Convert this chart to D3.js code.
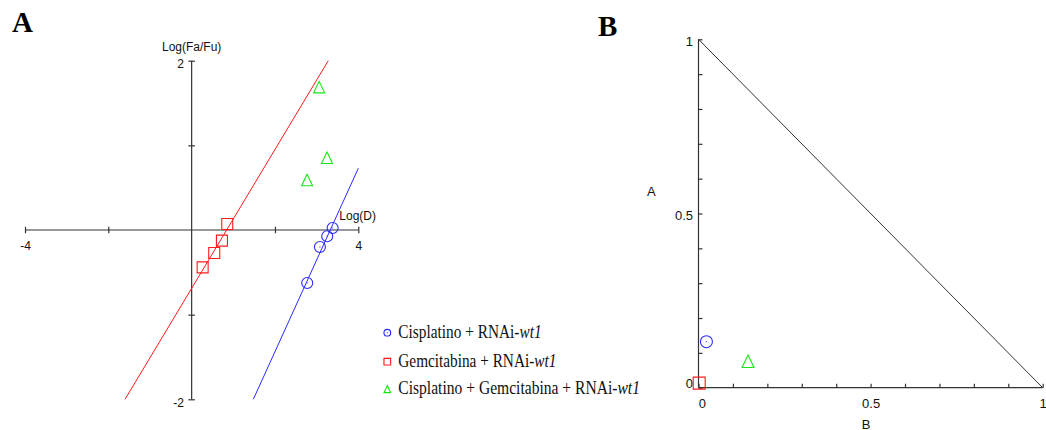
<!DOCTYPE html>
<html><head><meta charset="utf-8">
<script src="https://cdn.jsdelivr.net/npm/d3@7"></script>
<style>
html,body{margin:0;padding:0;background:#fff;}
svg{display:block;}
</style></head>
<body>
<svg id="chart" width="1046" height="430"></svg>
<script>
// ---------- DATA ----------
const seriesNames = ["Cisplatino + RNAi-", "Gemcitabina + RNAi-", "Cisplatino + Gemcitabina + RNAi-"];
const seriesItalic = ["wt1", "wt1", "wt1"];
const seriesColors = ["#2b2bff", "#ff1a1a", "#19e619"];
const seriesSymbols = ["circle", "square", "triangle"];

// Panel A: median-effect plot, Log(D) vs Log(Fa/Fu)
const cisLogD   = [3.384, 3.254, 3.079, 2.774];
const cisLogFa  = [0.024, -0.074, -0.201, -0.626];
const gemLogD   = [0.854, 0.727, 0.542, 0.264];
const gemLogFa  = [0.071, -0.126, -0.272, -0.441];
const comboLogD = [3.06, 3.25, 2.77];
const comboLogFa= [1.685, 0.85, 0.587];
// fitted median-effect lines (slope m, intercept b): y = m*x + b
const lineSlopes     = [1.083, 0.82];
const lineIntercepts = [-3.603, -0.689];
const lineColors     = ["#2b2bff", "#ff1a1a"];

const axisAXTicks = [-4, -2, 2, 4];
const axisAXLabels = [-4, 4];
const axisAYTicks = [-2, -1, 1, 2];
const axisAYLabels = [-2, 2];

// Panel B: normalized isobologram
const isoB = [0.023, 0.002, 0.144];
const isoA = [0.132, 0.013, 0.075];
const axisBTicks = [0, 0.1, 0.2, 0.3, 0.4, 0.5, 0.6, 0.7, 0.8, 0.9, 1];
const axisBLabels = [0, 0.5, 1];

// ---------- DRAW ----------
const svg = d3.select("#chart");
const axisColor = "#333";

function symbolPath(type, s) {
  const h = s / 2;
  if (type === "circle") return null;
  if (type === "square") return `M${-h},${-h}H${h}V${h}H${-h}Z`;
  return `M0,${-h - 0.5}L${h},${h}L${-h},${h}Z`;
}
function drawSymbol(g, type, x, y, size, color, dot) {
  if (type === "circle") {
    g.append("circle").attr("cx", x).attr("cy", y).attr("r", size / 2)
      .attr("fill", "none").attr("stroke", color).attr("stroke-width", 1.1);
  } else {
    g.append("path").attr("transform", `translate(${x},${y})`)
      .attr("d", symbolPath(type, size))
      .attr("fill", "none").attr("stroke", color).attr("stroke-width", 1.1);
  }
  if (dot) g.append("rect").attr("x", x - 0.5).attr("y", y - 0.5).attr("width", 1).attr("height", 1).attr("fill", color);
}

// Panel letters
svg.append("text").attr("x", 12).attr("y", 32.3).text("A")
  .attr("font-family", "Liberation Serif, Times New Roman, serif").attr("font-weight", "bold").attr("font-size", 29);
svg.append("text").attr("x", 598).attr("y", 35.7).text("B")
  .attr("font-family", "Liberation Serif, Times New Roman, serif").attr("font-weight", "bold").attr("font-size", 29);

// ----- Panel A -----
const xA = d3.scaleLinear().domain([-4, 4]).range([25, 358.3]);
const yA = d3.scaleLinear().domain([-2, 2]).range([399.3, 60.7]);
const gA = svg.append("g");
const fontUI = "Liberation Sans, Arial, sans-serif";

const xAxisA = gA.append("g").attr("transform", `translate(0,${yA(0)})`)
  .call(d3.axisBottom(xA).tickValues(axisAXTicks).tickSize(3.3)
    .tickFormat(d => axisAXLabels.includes(d) ? d : ""));
xAxisA.select(".domain").attr("d", `M${xA(-4)},0H${xA(4)}`);
xAxisA.selectAll(".tick line").attr("y1", -3.3);
xAxisA.selectAll(".tick text").attr("y", 11.5).attr("dy", "0.71em");

const yAxisA = gA.append("g").attr("transform", `translate(${xA(0)},0)`)
  .call(d3.axisLeft(yA).tickValues(axisAYTicks).tickSize(3.3)
    .tickFormat(d => axisAYLabels.includes(d) ? d : ""));
yAxisA.select(".domain").attr("d", `M0,${yA(-2)}V${yA(2)}`);
yAxisA.selectAll(".tick line").attr("x2", 3.3).attr("x1", -3.3);
yAxisA.selectAll(".tick text").attr("x", -7.7).attr("dy", "0.6em");

[xAxisA, yAxisA].forEach(ax => {
  ax.selectAll(".domain, .tick line").attr("stroke", axisColor).attr("stroke-width", 1.2);
  ax.selectAll(".tick text").attr("fill", "#111").attr("font-family", fontUI).attr("font-size", 12);
});

gA.append("text").attr("x", xA(0)).attr("y", 51).attr("text-anchor", "middle")
  .attr("font-family", fontUI).attr("font-size", 12).attr("fill", "#111").text("Log(Fa/Fu)");
gA.append("text").attr("x", 339.3).attr("y", 219.5).attr("text-anchor", "start")
  .attr("font-family", fontUI).attr("font-size", 12).attr("fill", "#111").text("Log(D)");

// fitted lines, clipped to plot domain
lineSlopes.forEach((m, i) => {
  const b = lineIntercepts[i];
  let x1 = (-2 - b) / m, x2 = (2 - b) / m;
  x1 = Math.max(-4, Math.min(4, x1)); x2 = Math.max(-4, Math.min(4, x2));
  gA.append("line")
    .attr("x1", xA(x1)).attr("y1", yA(m * x1 + b))
    .attr("x2", xA(x2)).attr("y2", yA(m * x2 + b))
    .attr("stroke", lineColors[i]).attr("stroke-width", 1);
});

const ptsA = [[cisLogD, cisLogFa], [gemLogD, gemLogFa], [comboLogD, comboLogFa]];
ptsA.forEach(([xs, ys], i) => {
  xs.forEach((x, j) => drawSymbol(gA, seriesSymbols[i], xA(x), yA(ys[j]), 11, seriesColors[i], i === 0));
});

// Legend
const legendY = [332.7, 361.7, 389.3];
const legendW = [143.3, 158.3, 241.7];
seriesNames.forEach((nm, i) => {
  drawSymbol(svg, seriesSymbols[i], 387.3, legendY[i], 6.7, seriesColors[i], i === 0);
  const g = svg.append("g").attr("transform", `translate(398.3,${legendY[i] + 4.8})`);
  const t = g.append("text").attr("font-family", "Liberation Serif, Times New Roman, serif")
    .attr("font-size", 18).attr("fill", "#111");
  t.append("tspan").text(nm);
  t.append("tspan").attr("font-style", "italic").text(seriesItalic[i]);
  const w = t.node().getComputedTextLength();
  t.attr("transform", `scale(${legendW[i] / w},1)`);
});

// ----- Panel B -----
const xB = d3.scaleLinear().domain([0, 1]).range([698.5, 1042.7]);
const yB = d3.scaleLinear().domain([0, 1]).range([387.7, 39.3]);
const gB = svg.append("g");

const xAxisB = gB.append("g").attr("transform", `translate(0,${yB(0)})`)
  .call(d3.axisBottom(xB).tickValues(axisBTicks).tickSize(-4)
    .tickFormat(d => axisBLabels.includes(d) ? d : ""));
xAxisB.select(".domain").attr("d", `M${xB(0)},0H${xB(1)}`);
xAxisB.selectAll(".tick text").attr("y", 11).attr("dy", "0.71em")
  .attr("dx", d => d === 0 ? 3.3 : 0);

const yAxisB = gB.append("g").attr("transform", `translate(${xB(0)},0)`)
  .call(d3.axisLeft(yB).tickValues(axisBTicks).tickSize(-4)
    .tickFormat(d => axisBLabels.includes(d) ? d : ""));
yAxisB.select(".domain").attr("d", `M0,${yB(0)}V${yB(1)}`);
yAxisB.selectAll(".tick text").attr("x", -5.5)
  .attr("dy", d => d === 0 ? "-0.05em" : "0.45em");

[xAxisB, yAxisB].forEach(ax => {
  ax.selectAll(".domain, .tick line").attr("stroke", axisColor).attr("stroke-width", 1.2);
  ax.selectAll(".tick text").attr("fill", "#111").attr("font-family", fontUI).attr("font-size", 13);
});

gB.append("line").attr("x1", xB(0)).attr("y1", yB(1)).attr("x2", xB(1)).attr("y2", yB(0))
  .attr("stroke", axisColor).attr("stroke-width", 1);

gB.append("text").attr("x", 866).attr("y", 428.5).attr("text-anchor", "middle")
  .attr("font-family", fontUI).attr("font-size", 13).attr("fill", "#111").text("B");
gB.append("text").attr("x", 651.3).attr("y", 196.3).attr("text-anchor", "middle")
  .attr("font-family", fontUI).attr("font-size", 13).attr("fill", "#111").text("A");

isoB.forEach((b, i) => drawSymbol(gB, seriesSymbols[i], xB(b), yB(isoA[i]), 12, seriesColors[i], i === 0));
</script>
</body></html>
